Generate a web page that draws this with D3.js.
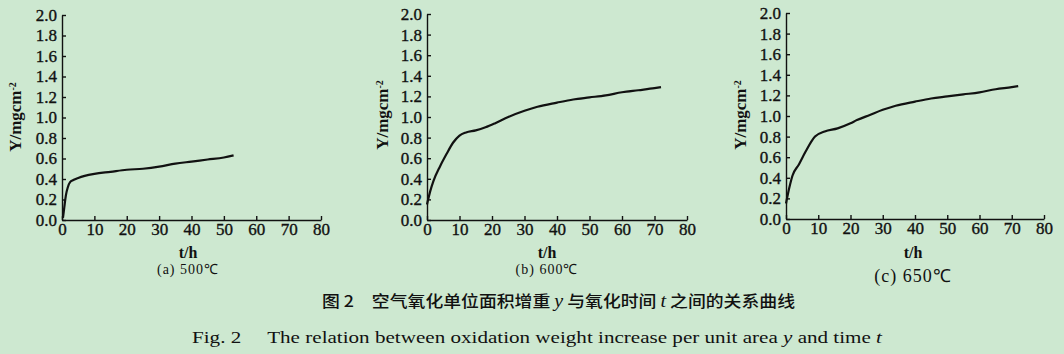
<!DOCTYPE html>
<html>
<head>
<meta charset="utf-8">
<script src="https://d3js.org/d3.v7.min.js"></script>
<style>
  body { margin: 0; background: #cde8d0; }
  svg { display: block; }
  text { fill: #111; }
  .tick text { font-family: "Liberation Serif", serif; font-size: 17px; stroke: #111; stroke-width: 0.35px; }
  .axis path, .axis line { stroke: #111; stroke-width: 1.4; }
</style>
</head>
<body>
<div id="chart"></div>
<script>
// data (t in h, y in mg/cm^2)
const series500 = [[0.3,0.02],[0.7,0.12],[1.2,0.24],[1.8,0.32],[2.5,0.37],[3.5,0.39],[5,0.41],[7,0.43],[10,0.45],[15,0.47],[20,0.49],[25,0.5],[30,0.52],[35,0.55],[40,0.57],[45,0.59],[50,0.61],[53,0.63]];
const series600 = [[0,0.15],[1,0.28],[2,0.38],[4,0.52],[6,0.64],[8,0.75],[10,0.82],[12,0.85],[15,0.87],[18,0.9],[21,0.94],[25,1.0],[30,1.06],[34,1.1],[40,1.14],[45,1.17],[50,1.19],[55,1.21],[60,1.24],[65,1.26],[70,1.28],[72,1.29]];
const series650 = [[0,0.15],[1,0.3],[2,0.42],[4,0.53],[6,0.65],[9,0.8],[12,0.85],[16,0.88],[20,0.93],[22,0.96],[26,1.01],[30,1.06],[34,1.1],[40,1.14],[45,1.17],[50,1.19],[55,1.21],[60,1.23],[65,1.26],[70,1.28],[72,1.29]];
const xTicks = [0, 10, 20, 30, 40, 50, 60, 70, 80];
const yTicks = [0, 0.2, 0.4, 0.6, 0.8, 1.0, 1.2, 1.4, 1.6, 1.8, 2.0];
const captions = ["(a)  500℃", "(b) 600℃", "(c) 650℃"];

const svg = d3.select("#chart").append("svg")
  .attr("width", 1064).attr("height", 354);

const panels = [
  {data: series500, left: 62, right: 321, top: 15, bottom: 220, ylab: 15, ylabY: 117, tx: 188, ty: 258, cap: captions[0], cy: 274, cs: 14},
  {data: series600, left: 427, right: 687, top: 14, bottom: 220, ylab: 382, ylabY: 115, tx: 547, ty: 258, cap: captions[1], cy: 274, cs: 14},
  {data: series650, left: 786, right: 1044, top: 13, bottom: 219, ylab: 740, ylabY: 115, tx: 913, ty: 258, cap: captions[2], cy: 282, cs: 18}
];

panels.forEach(p => {
  const x = d3.scaleLinear().domain([0, 80]).range([p.left, p.right]);
  const y = d3.scaleLinear().domain([0, 2]).range([p.bottom, p.top]);

  svg.append("g").attr("class", "axis")
    .attr("transform", `translate(0,${p.bottom})`)
    .call(d3.axisBottom(x).tickValues(xTicks).tickSizeInner(-4).tickSizeOuter(0).tickPadding(3).tickFormat(d3.format("d")));

  svg.append("g").attr("class", "axis")
    .attr("transform", `translate(${p.left},0)`)
    .call(d3.axisLeft(y).tickValues(yTicks).tickSizeInner(-4).tickSizeOuter(0).tickPadding(5).tickFormat(d3.format(".1f")));

  svg.selectAll(".axis text").attr("fill", "#111");

  const line = d3.line().x(d => x(d[0])).y(d => y(d[1])).curve(d3.curveMonotoneX);
  svg.append("path").datum(p.data)
    .attr("d", line)
    .attr("fill", "none").attr("stroke", "#111").attr("stroke-width", 2.2);

  const yl = svg.append("text")
    .attr("transform", `translate(${p.ylab},${p.ylabY}) rotate(-90)`)
    .attr("text-anchor", "middle")
    .attr("dy", "0.35em")
    .style("font-family", "Liberation Serif, serif")
    .style("font-size", "17px").style("font-weight", "bold");
  yl.append("tspan").text("Y/mgcm");
  yl.append("tspan").attr("dy", "-0.5em").style("font-size", "10px").text("-2");

  svg.append("text")
    .attr("x", p.tx).attr("y", p.ty)
    .attr("text-anchor", "middle")
    .style("font-family", "Liberation Serif, serif")
    .style("font-size", "16px").style("font-weight", "bold")
    .text("t/h");

  svg.append("text")
    .attr("x", p.tx).attr("y", p.cy)
    .attr("text-anchor", "middle")
    .style("font-family", "Liberation Serif, serif")
    .style("font-size", p.cs + "px")
    .style("letter-spacing", "1px")
    .text(p.cap);
});

const zh = svg.append("text")
  .attr("x", 322).attr("y", 307)
  .attr("textLength", 473).attr("lengthAdjust", "spacingAndGlyphs")
  .style("font-family", "Noto Sans CJK SC, serif")
  .style("font-size", "16px").style("font-weight", "500");
zh.append("tspan").text("图 2　空气氧化单位面积增重 ");
zh.append("tspan").style("font-family", "Liberation Serif, serif").style("font-style", "italic").style("font-size", "18px").text("y");
zh.append("tspan").text(" 与氧化时间 ");
zh.append("tspan").style("font-family", "Liberation Serif, serif").style("font-style", "italic").style("font-size", "18px").text("t");
zh.append("tspan").text(" 之间的关系曲线");

const en = svg.append("text")
  .attr("x", 192).attr("y", 343)
  .attr("textLength", 690).attr("lengthAdjust", "spacingAndGlyphs")
  .style("font-family", "Liberation Serif, serif")
  .style("font-size", "17px");
en.append("tspan").text("Fig. 2　 The relation between oxidation weight increase per unit area ");
en.append("tspan").style("font-style", "italic").text("y");
en.append("tspan").text(" and time ");
en.append("tspan").style("font-style", "italic").text("t");
</script>
</body>
</html>
